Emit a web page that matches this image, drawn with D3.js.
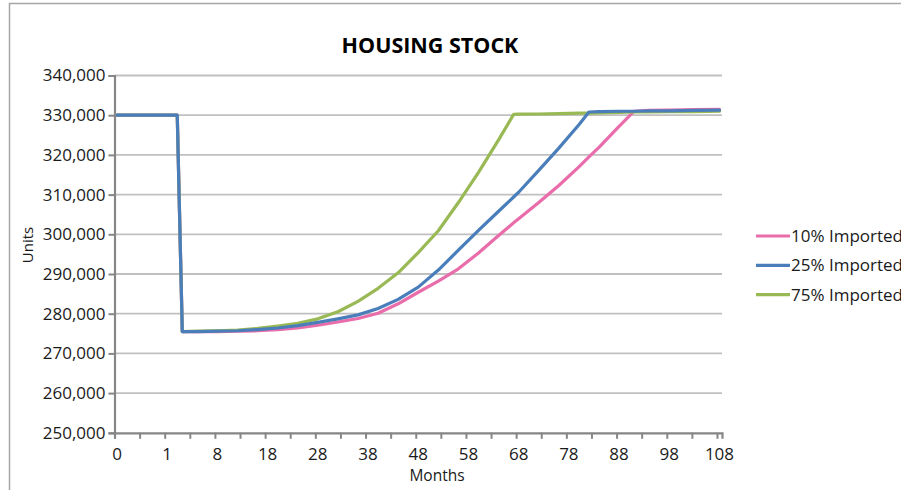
<!DOCTYPE html>
<html>
<head>
<meta charset="utf-8">
<script src="https://cdn.jsdelivr.net/npm/d3@7"></script>
<style>
  body { margin: 0; background: #fff; }
  svg { display: block; font-family: "Open Sans", sans-serif; }
</style>
</head>
<body>
<div id="chart"></div>
<script>
// x tick labels, shown every 10th category (121 categories)
var tickLabels = ["0", "1", "8", "18", "28", "38", "48", "58", "68", "78", "88", "98", "108"];
var nCategories = 121;

var sampleIdx = [0, 12, 13, 16, 20, 24, 28, 32, 36, 40, 44, 48, 52, 56, 60, 64, 68, 72, 76, 79,
  80, 84, 88, 92, 94, 96, 100, 103, 106, 110, 115, 120];

var imported10 = [330000, 330000, 275500, 275500, 275500, 275600, 275700, 276000, 276400, 277100,
  277900, 278800, 280100, 282500, 285400, 288200, 291300, 295300, 299700, 302900,
  303900, 308000, 312300, 317000, 319500, 321900, 327200, 331000, 331200, 331300, 331400, 331500];
var imported25 = [330000, 330000, 275500, 275500, 275600, 275700, 276000, 276400, 277000, 277800,
  278700, 279700, 281300, 283600, 286700, 291000, 296000, 301000, 305800, 309400,
  310600, 316100, 321700, 327600, 330800, 330900, 331000, 331000, 331100, 331100, 331200, 331300];
var imported75 = [330000, 330000, 275500, 275600, 275700, 275900, 276300, 276900, 277600, 278700,
  280500, 283100, 286400, 290300, 295400, 300900, 308000, 315600, 323800, 330200,
  330250, 330300, 330400, 330500, 330500, 330600, 330700, 330800, 330800, 330900, 330900, 331000];

var seriesNames = ["10% Imported", "25% Imported", "75% Imported"];
var seriesColors = ["#E96DAA", "#4A7EBB", "#98B954"];

var svgWidth = 901;
var svgHeight = 490;

var svg = d3.select("#chart").append("svg")
  .attr("width", svgWidth)
  .attr("height", svgHeight);

// outer frame
svg.append("path")
  .attr("d", "M9.5,490 L9.5,3.5 L901,3.5")
  .attr("fill", "none")
  .attr("stroke", "#a6a6a6")
  .attr("stroke-width", 1.5);

var xScale = d3.scaleLinear()
  .domain([-0.5, nCategories - 0.5])
  .range([114.5, 722]);

var yScale = d3.scaleLinear()
  .domain([250000, 340000])
  .range([432.8, 75.5]);

var yTicks = yScale.ticks(9);

// gridlines
svg.append("g").selectAll("line")
  .data(yTicks.filter(d => d > 250000))
  .enter().append("line")
  .attr("x1", xScale(-0.5))
  .attr("x2", xScale(nCategories - 0.5))
  .attr("y1", d => yScale(d))
  .attr("y2", d => yScale(d))
  .attr("stroke", "#c0c0c0")
  .attr("stroke-width", 1.8);

// y axis
var leftAxis = d3.axisLeft(yScale)
  .tickValues(yTicks)
  .tickFormat(d3.format(","))
  .tickSize(6)
  .tickPadding(3);

var yAxisG = svg.append("g")
  .attr("transform", `translate(${xScale(-0.5)},0)`)
  .call(leftAxis);

yAxisG.select(".domain").attr("stroke", "#868686").attr("stroke-width", 2.2);
yAxisG.selectAll(".tick line").attr("stroke", "#868686").attr("stroke-width", 2);
yAxisG.selectAll(".tick text")
  .attr("font-family", "Open Sans")
  .attr("font-size", "17px")
  .attr("fill", "#1a1a1a");

// x axis: tick marks between categories every 5, labels every 10
var bottomAxis = d3.axisBottom(xScale)
  .tickValues(d3.range(0, nCategories + 1, 5).map(d => d - 0.5))
  .tickFormat("")
  .tickSize(6);

var xAxisG = svg.append("g")
  .attr("transform", `translate(0,${yScale(250000)})`)
  .call(bottomAxis);

xAxisG.select(".domain").attr("stroke", "#868686").attr("stroke-width", 2.2);
xAxisG.selectAll(".tick line").attr("stroke", "#868686").attr("stroke-width", 2);

svg.append("g").selectAll("text")
  .data(tickLabels)
  .enter().append("text")
  .attr("x", (d, i) => xScale(i * 10))
  .attr("y", 460)
  .attr("text-anchor", "middle")
  .attr("font-size", "17px")
  .attr("fill", "#1a1a1a")
  .text(d => d);

// series lines
var line = d3.line()
  .x(d => xScale(d[0]))
  .y(d => yScale(d[1]));

var seriesValues = [imported10, imported25, imported75];
var drawOrder = [0, 2, 1];

drawOrder.forEach(function(k) {
  svg.append("path")
    .datum(sampleIdx.map((c, i) => [c, seriesValues[k][i]]))
    .attr("d", line)
    .attr("fill", "none")
    .attr("stroke", seriesColors[k])
    .attr("stroke-width", 3.2)
    .attr("stroke-linejoin", "round")
    .attr("stroke-linecap", "round");
});

// title and axis titles
svg.append("text")
  .attr("x", 430)
  .attr("y", 53)
  .attr("text-anchor", "middle")
  .attr("font-size", "21.5px")
  .attr("font-weight", "bold")
  .attr("fill", "#000")
  .text("HOUSING STOCK");

svg.append("text")
  .attr("transform", "translate(33,245) rotate(-90)")
  .attr("text-anchor", "middle")
  .attr("font-size", "15px")
  .attr("fill", "#1a1a1a")
  .text("Units");

svg.append("text")
  .attr("x", 437)
  .attr("y", 481)
  .attr("text-anchor", "middle")
  .attr("font-size", "15.5px")
  .attr("fill", "#1a1a1a")
  .text("Months");

// legend
var legend = svg.append("g").selectAll("g")
  .data(seriesNames)
  .enter().append("g")
  .attr("transform", (d, i) => `translate(756,${236 + i * 29.3})`);

legend.append("line")
  .attr("x1", 0)
  .attr("x2", 34)
  .attr("stroke", (d, i) => seriesColors[i])
  .attr("stroke-width", 3.2);

legend.append("text")
  .attr("x", 35)
  .attr("y", 6)
  .attr("font-size", "17px")
  .attr("fill", "#1a1a1a")
  .text(d => d);
</script>
</body>
</html>
